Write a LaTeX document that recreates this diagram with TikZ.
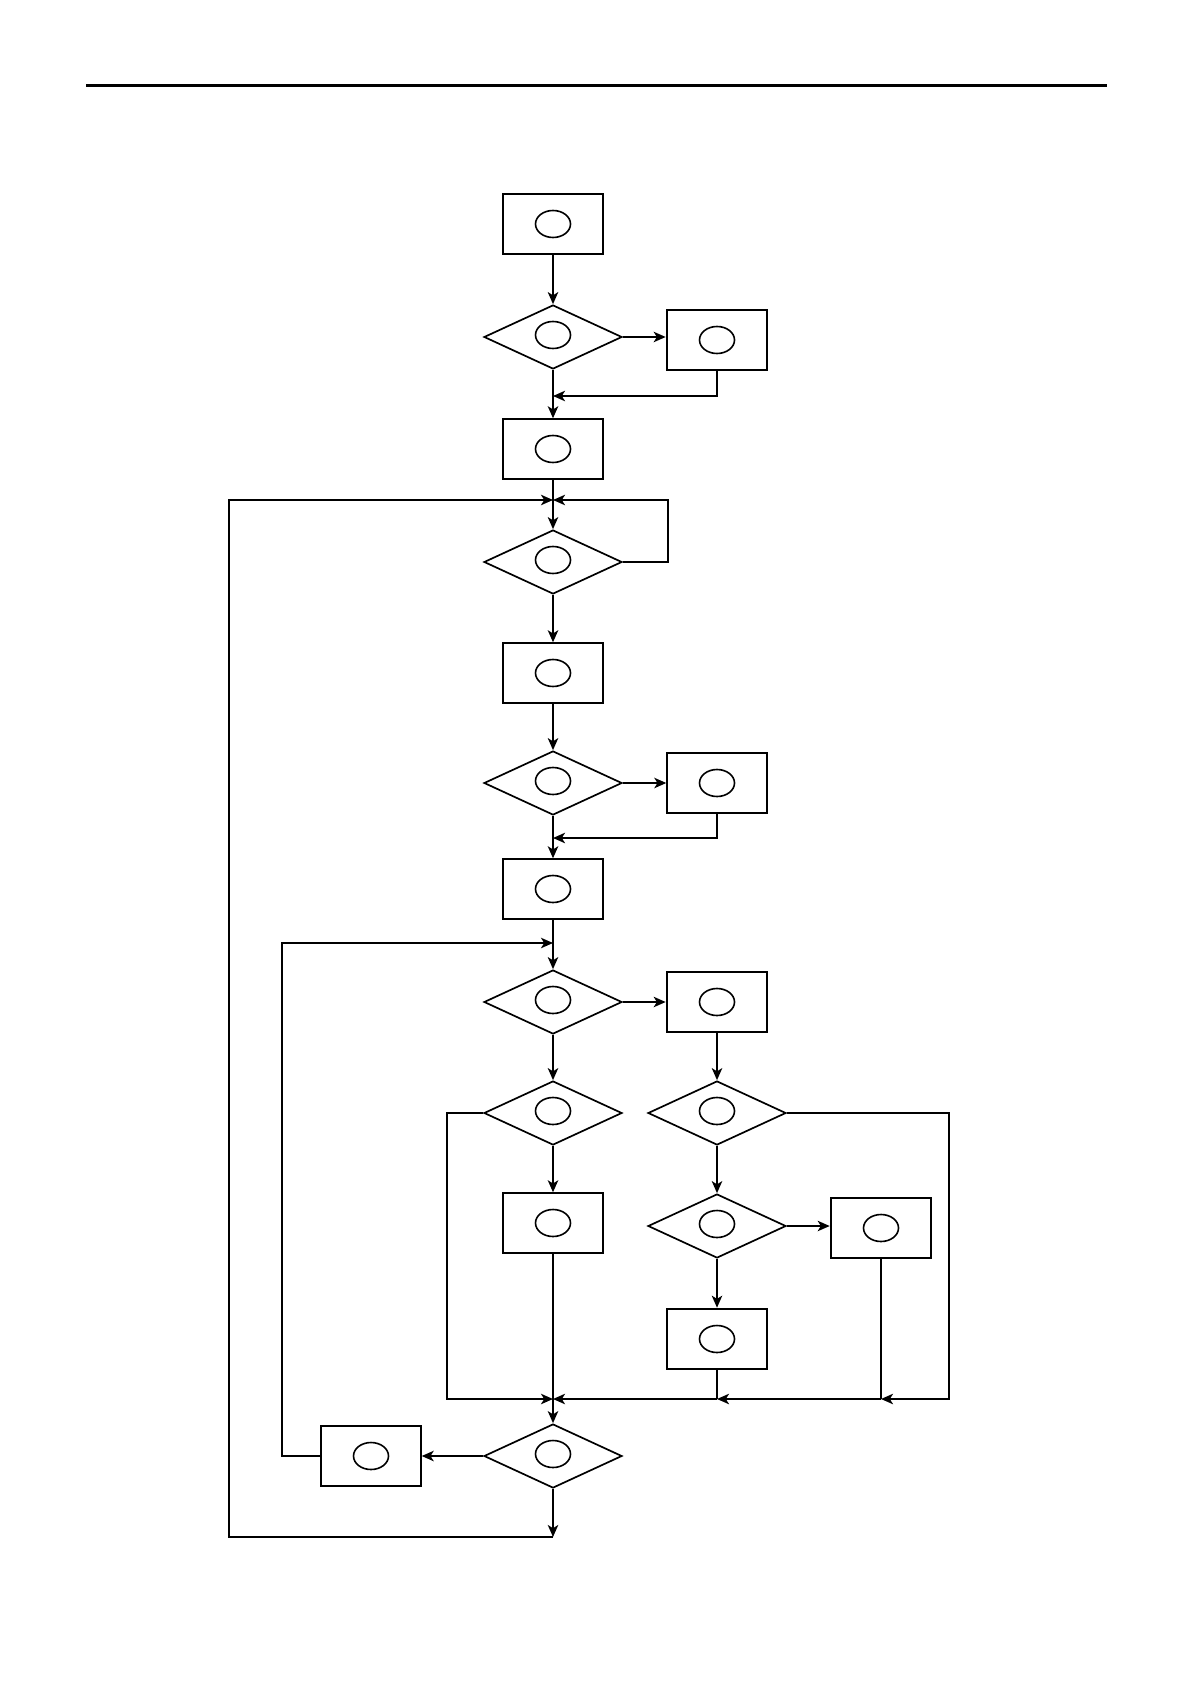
\documentclass[tikz,border=0pt]{standalone}
\usepackage{tikz}
\usetikzlibrary{shapes.geometric, arrows.meta}

\begin{document}
\begin{tikzpicture}[x=0.5pt, y=-0.5pt, line width=1pt,
    >={Stealth[length=6pt, width=5.2pt, inset=1.6pt]},  % 箭头类型,也可以用 latex
    kuang/.style={draw, line width=0.7pt, minimum width=50pt, minimum height=30pt, inner sep=0pt,
        path picture={\draw[line width=0.8pt] (path picture bounding box.center) ellipse (8.75pt and 6.75pt);}},
    kuangcu/.style={kuang, line width=1.3pt},  % 边框粗一点的方框
    pan/.style={diamond, draw, line width=0.85pt, minimum width=69pt, minimum height=32pt, inner sep=0pt,
        path picture={\draw[line width=0.8pt] ([yshift=1pt]path picture bounding box.center) ellipse (8.75pt and 6.75pt);}}]
    % 整页背景,A4 大小
    \fill[white] (0, 0) rectangle (1190, 1684);
    \draw[line width=1.5pt] (86, 86)--(1107, 86);  % 页眉横线

    % 方框和判断框,坐标按像素给出
    \node[kuang] (k1) at (553, 224) {};
    \node[pan] (p1) at (553, 337) {};
    \node[kuangcu] (k2) at (717, 340) {};
    \node[kuang] (k3) at (553, 449) {};
    \node[pan] (p2) at (553, 562) {};
    \node[kuang] (k4) at (553, 673) {};
    \node[pan] (p3) at (553, 783) {};
    \node[kuang] (k5) at (717, 783) {};
    \node[kuang] (k6) at (553, 889) {};
    \node[pan] (p4) at (553, 1002) {};
    \node[kuangcu] (k7) at (717, 1002) {};
    \node[pan] (p5) at (553, 1113) {};
    \node[pan] (p6) at (717, 1113) {};
    \node[kuang] (k8) at (553, 1223) {};
    \node[pan] (p7) at (717, 1226) {};
    \node[kuangcu] (k9) at (881, 1228) {};
    \node[kuangcu] (k10) at (717, 1339) {};
    \node[pan] (p8) at (553, 1456) {};
    \node[kuang] (k11) at (371, 1456) {};

    % 汇合点
    \coordinate (h1) at (553, 396);
    \coordinate (h2) at (553, 500);
    \coordinate (h3) at (553, 838);
    \coordinate (h4) at (553, 943);
    \coordinate (h5) at (553, 1399);
    \coordinate (h6) at (553, 1537);
    \coordinate (h7) at (k9.south |- h5);
    \coordinate (h8) at (k10.south |- h5);

    % 主干
    \draw[->] (k1)--(p1);
    \draw[->] (p1.east)--(p1.east -| k2.west);
    \draw[->] (k2.south) |- (h1);
    \draw[->] (p1)--(k3);
    \draw (k3)--(h2);
    \draw[->] (h2)--(p2);
    \draw[->] (p2.east)--++(45, 0) |- (h2);  % 右边的回路
    \draw[->] (p2)--(k4);
    \draw[->] (k4)--(p3);
    \draw[->] (p3)--(k5);
    \draw[->] (k5.south) |- (h3);
    \draw[->] (p3)--(k6);
    \draw (k6)--(h4);
    \draw[->] (h4)--(p4);
    \draw[->] (p4)--(k7);
    \draw[->] (p4)--(p5);
    \draw[->] (k7)--(p6);

    % 两个分支
    \draw[->] (p5.west)--++(-36, 0) |- (h5);
    \draw[->] (p5)--(k8);
    \draw (k8)--(h5);
    \draw[->] (p6)--(p7);
    \draw[->] (p7.east)--(p7.east -| k9.west);
    \draw[->] (p7)--(k10);
    \draw[->] (p6.east)--++(162, 0) |- (h7);
    \draw (k9)--(h7);
    \draw[->] (h7)--(h8);
    \draw (k10)--(h8);
    \draw[->] (h8)--(h5);

    % 最后的判断和两个大回路
    \draw[->] (h5)--(p8);
    \draw[->] (p8)--(k11);
    \draw[->] (k11.west)--++(-38, 0) |- (h4);
    \draw[->] (p8)--(h6);
    \draw[->] (h6)--++(-324, 0) |- (h2);
\end{tikzpicture}
\end{document}
